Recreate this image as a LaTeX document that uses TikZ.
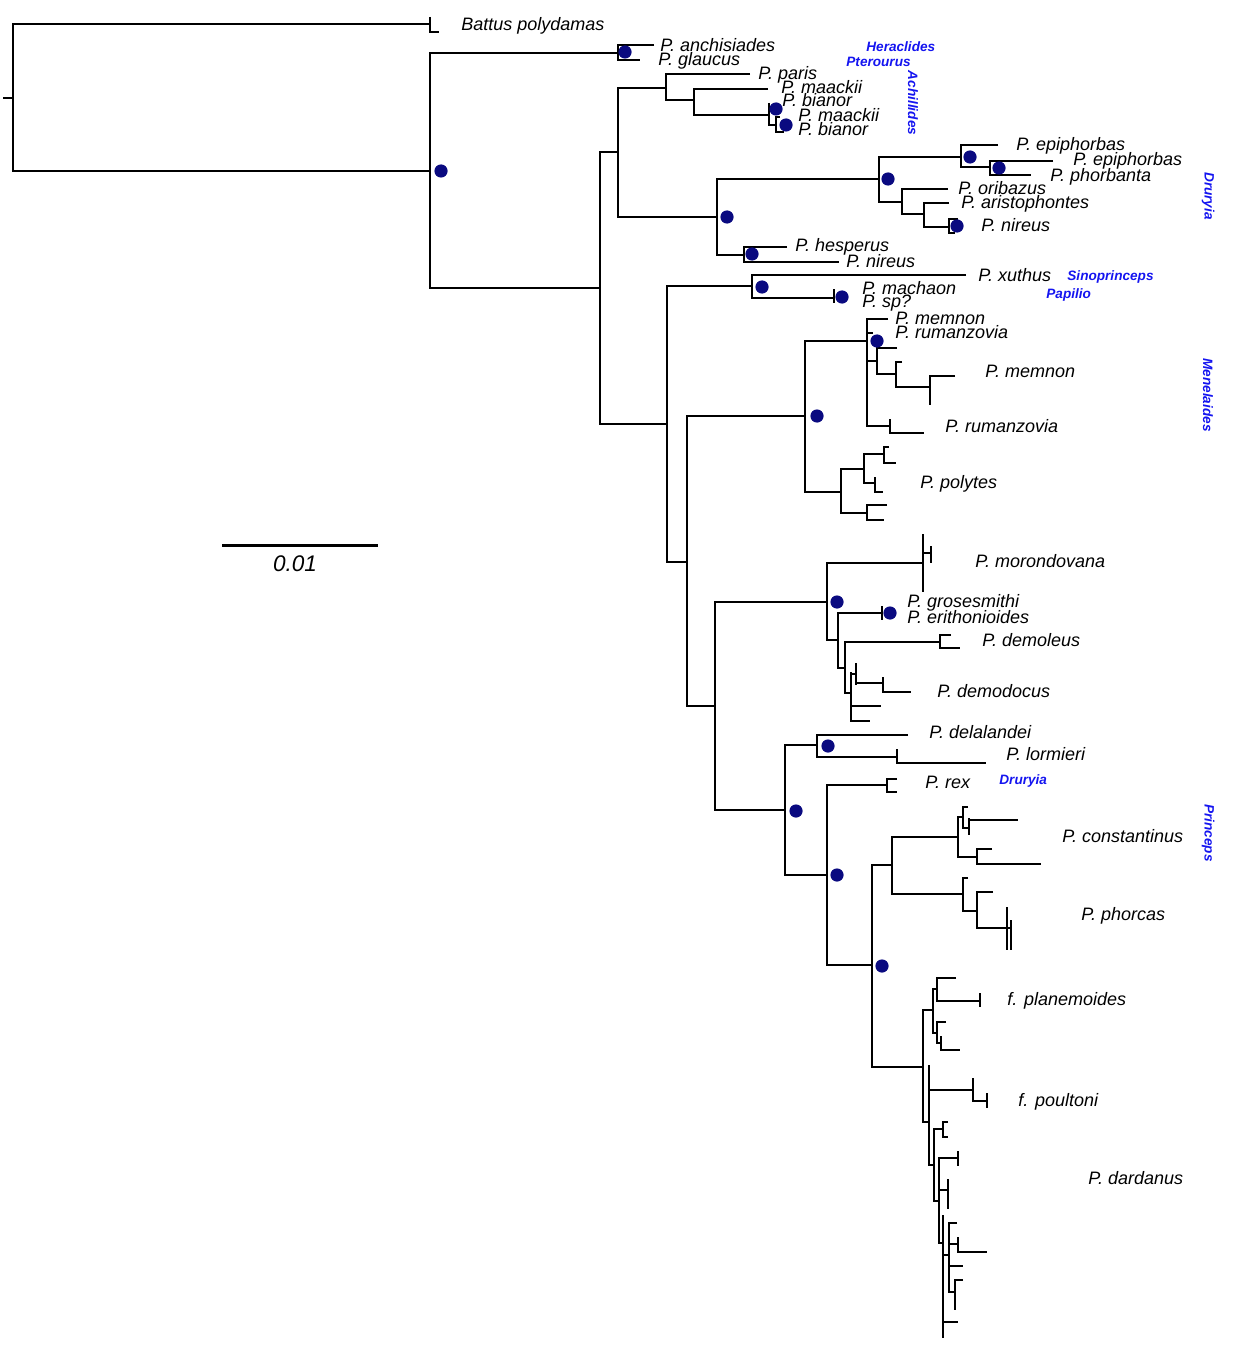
\documentclass[tikz,border=0pt]{standalone}
\usepackage{fontspec}
\setmainfont{Liberation Sans}
\usepackage{tikz}
\definecolor{dotblue}{RGB}{10,10,128}
\definecolor{cladeblue}{RGB}{20,20,240}

\begin{document}
\begin{tikzpicture}[
    x=0.5pt, y=-0.5pt,
    branch/.style={line width=1.4pt, line join=miter},
    leaf/.style={anchor=base west, inner sep=0pt,
                 font=\fontsize{9}{10}\selectfont\itshape},
    genus/.style={anchor=base west, inner sep=0pt, text=cladeblue,
                  font=\fontsize{6.8}{8}\selectfont\bfseries\itshape},
    genusv/.style={genus, anchor=center, rotate=-90},
    support/.style={circle, fill=dotblue, inner sep=0pt, minimum size=6.6pt},
]
    \useasboundingbox (0,0) rectangle (1235,1364);

    % root and outgroup
    \draw[branch] (3,98) -- (13,98);
    \draw[branch] (430,24) -| (13,171) -- (430,171);
    \draw[branch] (430,17) -- (430,32) -- (439,32);
    \draw[branch] (618,53) -| (430,288) -- (600,288);

    % Heraclides, Pterourus, Achillides
    \draw[branch] (654,45) -| (618,60) -- (640,60);
    \draw[branch] (618,152) -| (600,424) -- (667,424);
    \draw[branch] (666,88) -| (618,217) -- (717,217);
    \draw[branch] (750,74) -| (666,100) -- (694,100);
    \draw[branch] (768,89) -| (694,115) -- (769,115);
    \draw[branch] (769,103) -- (769,125) -- (776,125);
    \draw[branch] (780,117) -| (776,132) -- (784,132);

    % Druryia (upper)
    \draw[branch] (879,179) -| (717,255) -- (744,255);
    \draw[branch] (961,157) -| (879,202) -- (902,202);
    \draw[branch] (998,145) -| (961,167) -- (990,167);
    \draw[branch] (1053,161) -| (990,175) -- (1031,175);
    \draw[branch] (948,189) -| (902,214) -- (924,214);
    \draw[branch] (949,203) -| (924,227) -- (949,227);
    \draw[branch] (958,219) -| (949,233) -- (955,233);
    \draw[branch] (787,247) -| (744,262) -- (839,262);

    % Sinoprinceps, Papilio
    \draw[branch] (752,286) -| (667,562) -- (687,562);
    \draw[branch] (966,275) -| (752,298) -- (834,298);
    \draw[branch] (834,289) -- (834,303);

    % Menelaides
    \draw[branch] (805,416) -| (687,706) -- (715,706);
    \draw[branch] (867,341) -| (805,492) -- (841,492);
    \draw[branch] (888,319) -| (867,426) -- (890,426);
    \draw[branch] (867,333) -- (873,333);
    \draw[branch] (867,361) -- (877,361);
    \draw[branch] (897,348) -| (877,374) -- (896,374);
    \draw[branch] (902,362) -| (896,387) -- (930,387);
    \draw[branch] (955,376) -| (930,405);
    \draw[branch] (890,419) -- (890,433) -- (924,433);
    \draw[branch] (864,469) -| (841,513) -- (867,513);
    \draw[branch] (884,454) -| (864,483) -- (875,483);
    \draw[branch] (889,447) -| (884,463) -- (896,463);
    \draw[branch] (875,477) -- (875,492) -- (883,492);
    \draw[branch] (887,505) -| (867,520) -- (884,520);

    % Princeps: morondovana to demodocus
    \draw[branch] (827,602) -| (715,810) -- (785,810);
    \draw[branch] (923,563) -| (827,640) -- (838,640);
    \draw[branch] (923,534) -- (923,592);
    \draw[branch] (923,553) -- (931,553);
    \draw[branch] (931,546) -- (931,563);
    \draw[branch] (882,613) -| (838,668) -- (845,668);
    \draw[branch] (882,606) -- (882,620);
    \draw[branch] (940,642) -| (845,693) -- (851,693);
    \draw[branch] (951,635) -| (940,648) -- (960,648);
    \draw[branch] (851,672) -- (851,721) -- (870,721);
    \draw[branch] (851,674) -- (856,674);
    \draw[branch] (856,663) -- (856,685);
    \draw[branch] (856,683) -- (883,683);
    \draw[branch] (883,677) -- (883,692) -- (911,692);
    \draw[branch] (851,706) -- (881,706);

    % delalandei, lormieri, rex
    \draw[branch] (817,745) -| (785,875) -- (827,875);
    \draw[branch] (908,735) -| (817,757) -- (897,757);
    \draw[branch] (897,749) -- (897,763) -- (986,763);
    \draw[branch] (887,785) -| (827,965) -- (872,965);
    \draw[branch] (897,779) -| (887,792) -- (897,792);

    % constantinus, phorcas
    \draw[branch] (892,865) -| (872,1067) -- (923,1067);
    \draw[branch] (958,837) -| (892,894) -- (963,894);
    \draw[branch] (963,817) -| (958,857) -- (977,857);
    \draw[branch] (968,807) -| (963,828) -- (969,828);
    \draw[branch] (969,818) -- (969,835);
    \draw[branch] (969,820) -- (1018,820);
    \draw[branch] (992,849) -| (977,864) -- (1041,864);
    \draw[branch] (968,878) -| (963,911) -- (977,911);
    \draw[branch] (993,892) -| (977,928) -- (1007,928);
    \draw[branch] (1007,907) -- (1007,950);
    \draw[branch] (1007,928) -- (1011,928);
    \draw[branch] (1011,920) -- (1011,950);

    % dardanus complex
    \draw[branch] (933,1010) -| (923,1122) -- (929,1122);
    \draw[branch] (937,989) -| (933,1033) -- (937,1033);
    \draw[branch] (956,978) -| (937,1001) -- (980,1001);
    \draw[branch] (980,993) -- (980,1007);
    \draw[branch] (946,1022) -| (937,1043) -- (941,1043);
    \draw[branch] (941,1036) -- (941,1050) -- (960,1050);
    \draw[branch] (929,1065) -- (929,1165) -- (934,1165);
    \draw[branch] (929,1090) -- (973,1090);
    \draw[branch] (973,1078) -- (973,1101) -- (987,1101);
    \draw[branch] (987,1093) -- (987,1108);
    \draw[branch] (943,1129) -| (934,1201) -- (939,1201);
    \draw[branch] (948,1122) -| (943,1137) -- (948,1137);
    \draw[branch] (958,1158) -| (939,1243) -- (943,1243);
    \draw[branch] (958,1151) -- (958,1166);
    \draw[branch] (939,1190) -- (948,1190);
    \draw[branch] (948,1179) -- (948,1209);
    \draw[branch] (943,1215) -- (943,1338);
    \draw[branch] (943,1255) -- (949,1255);
    \draw[branch] (943,1322) -- (958,1322);
    \draw[branch] (957,1223) -| (949,1292) -- (955,1292);
    \draw[branch] (949,1244) -- (958,1244);
    \draw[branch] (958,1237) -- (958,1252) -- (987,1252);
    \draw[branch] (949,1266) -- (963,1266);
    \draw[branch] (963,1280) -| (955,1310);

    % support dots
    \foreach \p [count=\i] in {(441,171),(625,52),(776,109),(786,125),
        (970,157),(999,168),(888,179),(727,217),(957,226),(752,254),
        (762,287),(842,297),(877,341),(817,416),(837,602),(890,613),
        (828,746),(796,811),(837,875),(882,966)}
        \node[support] (bs\i) at \p {};

    % taxa
    \node[leaf] (battus) at (461,31) {Battus polydamas};
    \node[leaf] (anchis) at (660,52) {P. anchisiades};
    \node[leaf] (glauc) at (658,66) {P. glaucus};
    \node[leaf] (paris) at (758,80) {P. paris};
    \node[leaf] (maack1) at (781,94) {P. maackii};
    \node[leaf] (bian1) at (782,107) {P. bianor};
    \node[leaf] (maack2) at (798,122) {P. maackii};
    \node[leaf] (bian2) at (798,136) {P. bianor};
    \node[leaf] (epiph1) at (1016,151) {P. epiphorbas};
    \node[leaf] (epiph2) at (1073,166) {P. epiphorbas};
    \node[leaf] (phorb) at (1050,182) {P. phorbanta};
    \node[leaf] (oriba) at (958,195) {P. oribazus};
    \node[leaf] (arist) at (961,209) {P. aristophontes};
    \node[leaf] (nire1) at (981,232) {P. nireus};
    \node[leaf] (hesp) at (795,251) {P. hesperus};
    \node[leaf] (nire2) at (846,267) {P. nireus};
    \node[leaf] (xuth) at (978,281) {P. xuthus};
    \node[leaf] (macha) at (862,294) {P. machaon};
    \node[leaf] (spq) at (862,307) {P. sp?};
    \node[leaf] (memn1) at (895,324) {P. memnon};
    \node[leaf] (ruma1) at (895,338) {P. rumanzovia};
    \node[leaf] (memn2) at (985,377) {P. memnon};
    \node[leaf] (ruma2) at (945,432) {P. rumanzovia};
    \node[leaf] (polyt) at (920,488) {P. polytes};
    \node[leaf] (moron) at (975,567) {P. morondovana};
    \node[leaf] (gros) at (907,607) {P. grosesmithi};
    \node[leaf] (erith) at (907,623) {P. erithonioides};
    \node[leaf] (demol) at (982,646) {P. demoleus};
    \node[leaf] (demod) at (937,697) {P. demodocus};
    \node[leaf] (delal) at (929,738) {P. delalandei};
    \node[leaf] (lorm) at (1006,760) {P. lormieri};
    \node[leaf] (rex) at (925,788) {P. rex};
    \node[leaf] (const) at (1062,842) {P. constantinus};
    \node[leaf] (phorc) at (1081,920) {P. phorcas};
    \node[leaf] (plane) at (1007,1005) {f. planemoides};
    \node[leaf] (poult) at (1018,1106) {f. poultoni};
    \node[leaf] (dard) at (1088,1184) {P. dardanus};

    % subgenera
    \node[genus] (herac) at (866,52) {Heraclides};
    \node[genus] (ptero) at (846,67) {Pterourus};
    \node[genusv] (achil) at (913,103) {Achillides};
    \node[genusv] (drur1) at (1208,196) {Druryia};
    \node[genus] (sino) at (1067,280) {Sinoprinceps};
    \node[genus] (papil) at (1046,298) {Papilio};
    \node[genusv] (menel) at (1208,395) {Menelaides};
    \node[genus] (drur2) at (999,784) {Druryia};
    \node[genusv] (princ) at (1208,833) {Princeps};

    % scale bar
    \draw[line width=1.5pt] (222,545) -- (378,545);
    \node[anchor=base, inner sep=0pt, font=\fontsize{11.3}{13}\selectfont\itshape]
        (scale) at (295,571) {0.01};
\end{tikzpicture}
\end{document}
